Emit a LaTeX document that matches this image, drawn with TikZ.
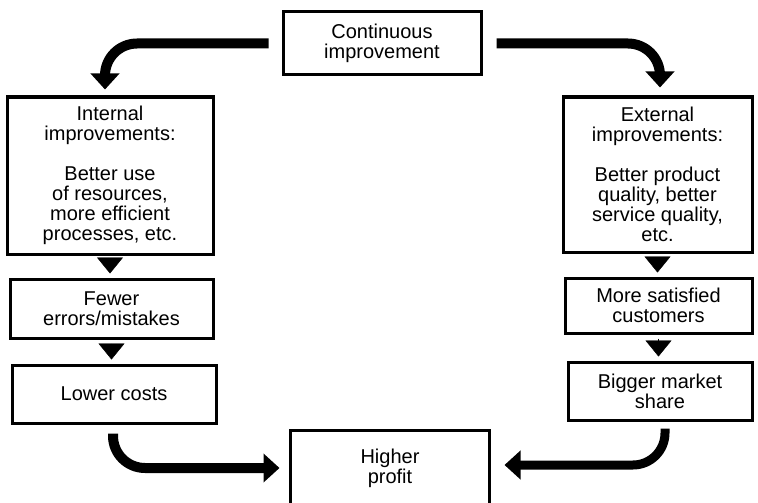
\documentclass[tikz,border=0pt]{standalone}
\usepackage{fontspec}
\setmainfont{Liberation Sans}
\usetikzlibrary{arrows.meta,calc}

\tikzset{
  box/.style={draw, line width=3pt, align=center, inner sep=0pt,
    font=\fontsize{20}{20}\selectfont},
  bigarrow/.style={line width=10pt, rounded corners=32pt,
    -{Triangle[width=28pt,length=16pt]}},
  smallarrow/.style={line width=0.4pt, shorten <=4pt, shorten >=4pt,
    -{Triangle[width=26pt,length=16pt]}},
}

\begin{document}
\begin{tikzpicture}[x=1pt,y=-1pt]
\useasboundingbox (0,0) rectangle (758,503);

% top of the cycle
\node[box, minimum width=198pt, minimum height=63pt] (cont) at (382,43.5)
  {Continuous\\improvement};

% left column: internal improvements
\node[box, minimum width=206pt, minimum height=157pt] (internal) at (110,175.5)
  {Internal\\improvements:\\[20pt]Better use\\of resources,\\more efficient\\processes, etc.};
\node[box, minimum width=203pt, minimum height=59pt] (fewer) at (111.5,308.5)
  {Fewer\\errors/mistakes};
\node[box, minimum width=204pt, minimum height=58pt] (lower) at (114,394)
  {Lower costs};

% right column: external improvements
\node[box, minimum width=189pt, minimum height=155pt] (external) at (657.5,174.5)
  {External\\improvements:\\[20pt]Better product\\quality, better\\service quality,\\etc.};
\node[box, minimum width=187pt, minimum height=55pt] (satisfied) at (658.5,305.5)
  {More satisfied\\customers};
\node[box, minimum width=184pt, minimum height=58pt] (bigger) at (660,391)
  {Bigger market\\share};

% result, open at the bottom
\node[box, draw=none, minimum width=196pt, minimum height=72pt] (profit) at (390,468)
  {Higher\\profit};
\draw[line width=3pt] ($(profit.south west)+(0,2)$) -- (profit.north west)
  -- (profit.north east) -- ($(profit.south east)+(0,2)$);

% curved block arrows
\draw[bigarrow] ($(cont.west)+(-13,0)$) -| ($(internal.north)+(-5,-6)$);
\draw[bigarrow] ($(cont.east)+(14,0)$) -| ($(external.north)+(2.5,-8)$);
\draw[bigarrow] ($(lower.south)+(-1,9)$) |- ($(profit.west)+(-11,0)$);
\draw[bigarrow, line width=9pt] ($(bigger.south)+(5,7)$) |- ($(profit.east)+(15,-3)$);

% small step arrows
\draw[smallarrow] (internal.south) -- (internal.south |- fewer.north);
\draw[smallarrow] (fewer.south) -- (fewer.south |- lower.north);
\draw[smallarrow] (external.south) -- (external.south |- satisfied.north);
\draw[smallarrow] (satisfied.south) -- (satisfied.south |- bigger.north);
\end{tikzpicture}
\end{document}
